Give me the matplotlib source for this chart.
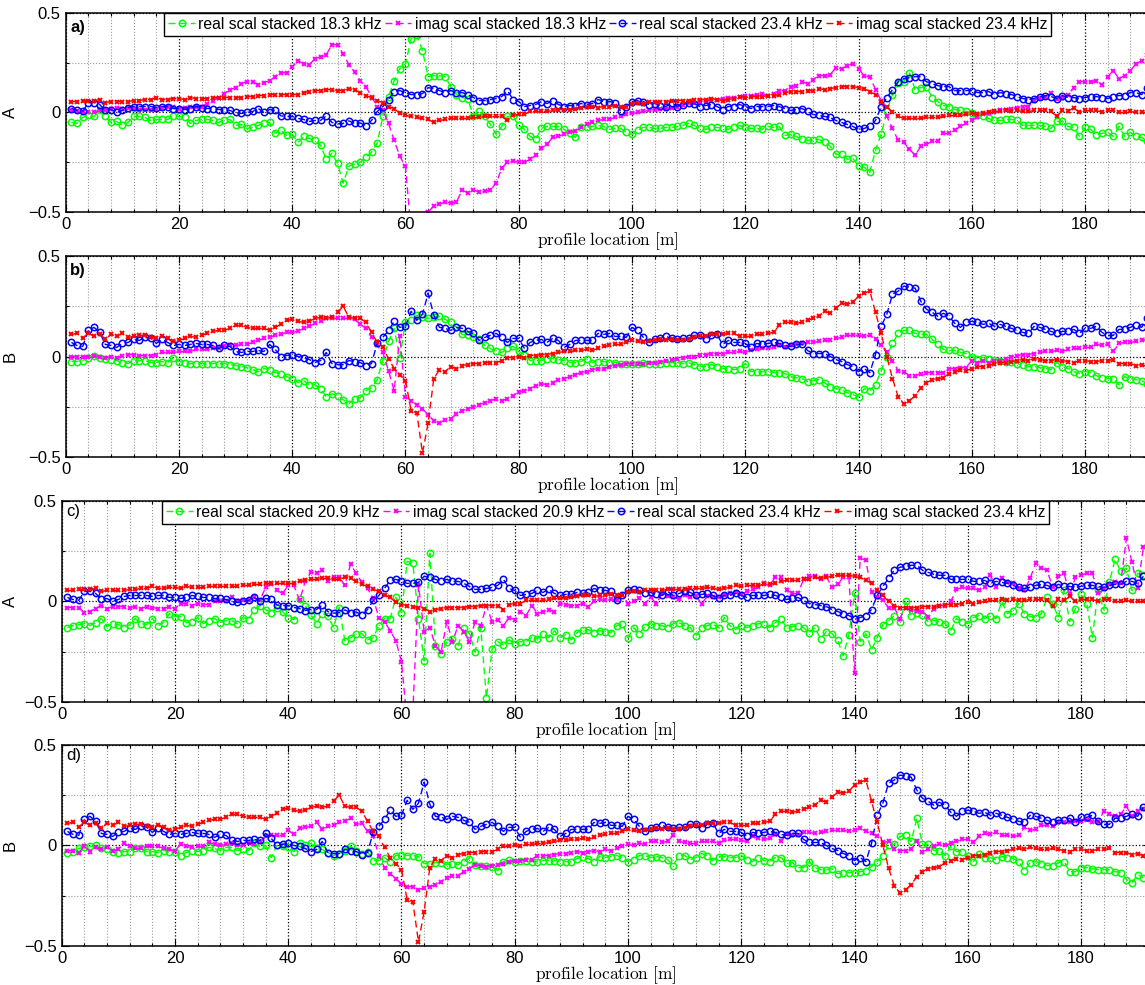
import numpy as np
import matplotlib
matplotlib.use('Agg')
import matplotlib.pyplot as plt
from matplotlib.ticker import MultipleLocator, FixedLocator

plt.rcParams['font.family'] = ['Liberation Sans', 'DejaVu Sans']
plt.rcParams['mathtext.fontset'] = 'cm'

# scaled responses, one value per metre (x = 1, 2, 3, ...)
# component A, 23.4 kHz (used in panels a and c)
a_real_234 = [
    0.02, 0.01, 0.005, 0.05, 0.05, 0.04, 0.01, 0.015, 0.0, 0.01,
    0.025, 0.03, 0.03, 0.03, 0.03, 0.025, 0.03, 0.03, 0.02, 0.02,
    0.015, 0.02, 0.03, 0.025, 0.02, 0.02, 0.015, 0.015, 0.01, 0.0,
    -0.005, 0.0, 0.005, 0.02, 0.0, 0.015, 0.01, -0.017, -0.02, -0.02,
    -0.03, -0.035, -0.045, -0.04, -0.04, -0.017, -0.05, -0.058, -0.055, -0.042,
    -0.055, -0.052, -0.068, -0.04, 0.005, 0.03, 0.065, 0.105, 0.11, 0.1,
    0.09, 0.09, 0.095, 0.125, 0.12, 0.11, 0.1, 0.11, 0.1, 0.1,
    0.09, 0.075, 0.06, 0.06, 0.065, 0.07, 0.08, 0.11, 0.065, 0.055,
    0.03, 0.035, 0.04, 0.055, 0.045, 0.06, 0.04, 0.03, 0.035, 0.035,
    0.045, 0.04, 0.045, 0.065, 0.055, 0.055, 0.05, 0.005, 0.03, 0.055,
    0.06, 0.055, 0.04, 0.045, 0.035, 0.03, 0.05, 0.03, 0.04, 0.05,
    0.045, 0.03, 0.035, 0.04, 0.03, 0.015, 0.03, 0.03, 0.04, 0.03,
    0.02, 0.03, 0.03, 0.03, 0.035, 0.03, 0.02, 0.01, 0.015, 0.02,
    0.005, -0.01, -0.015, -0.02, -0.025, -0.04, -0.05, -0.06, -0.07, -0.085,
    -0.08, -0.07, -0.04, 0.03, 0.075, 0.115, 0.155, 0.17, 0.175, 0.18,
    0.18, 0.155, 0.145, 0.135, 0.13, 0.13, 0.11, 0.11, 0.11, 0.11,
    0.1, 0.1, 0.105, 0.09, 0.1, 0.095, 0.09, 0.08, 0.07, 0.065,
    0.07, 0.08, 0.085, 0.08, 0.07, 0.085, 0.075, 0.075, 0.07, 0.075,
    0.08, 0.08, 0.075, 0.07, 0.08, 0.085, 0.085, 0.1, 0.1, 0.09,
    0.125]
a_imag_234 = [
    0.055, 0.055, 0.06, 0.06, 0.06, 0.065, 0.05, 0.055, 0.055, 0.055,
    0.055, 0.06, 0.06, 0.065, 0.065, 0.075, 0.065, 0.065, 0.07, 0.07,
    0.065, 0.075, 0.07, 0.07, 0.07, 0.075, 0.075, 0.075, 0.075, 0.075,
    0.075, 0.08, 0.08, 0.085, 0.085, 0.09, 0.09, 0.09, 0.09, 0.09,
    0.09, 0.1, 0.105, 0.11, 0.11, 0.115, 0.115, 0.11, 0.11, 0.12,
    0.115, 0.1, 0.085, 0.075, 0.06, 0.05, 0.03, 0.02, -0.005, -0.015,
    -0.02, -0.025, -0.03, -0.035, -0.05, -0.04, -0.035, -0.03, -0.03, -0.03,
    -0.03, -0.025, -0.025, -0.02, -0.02, -0.02, -0.02, -0.04, -0.015, -0.01,
    -0.01, 0.005, 0.005, 0.005, 0.005, 0.01, 0.015, 0.015, 0.015, 0.02,
    0.025, 0.03, 0.03, 0.025, 0.03, 0.03, 0.035, 0.03, 0.03, 0.045,
    0.05, 0.045, 0.055, 0.055, 0.055, 0.055, 0.06, 0.06, 0.06, 0.06,
    0.065, 0.065, 0.065, 0.07, 0.065, 0.06, 0.065, 0.07, 0.08, 0.075,
    0.08, 0.08, 0.08, 0.085, 0.085, 0.09, 0.1, 0.105, 0.105, 0.105,
    0.11, 0.11, 0.12, 0.115, 0.12, 0.125, 0.13, 0.13, 0.13, 0.125,
    0.12, 0.105, 0.09, 0.055, 0.03, 0.0, -0.02, -0.03, -0.03, -0.03,
    -0.03, -0.025, -0.025, -0.025, -0.02, -0.015, -0.015, -0.015, -0.01, -0.005,
    -0.01, -0.005, 0.0, 0.005, 0.005, 0.01, 0.005, 0.01, 0.005, 0.005,
    0.01, 0.01, 0.01, 0.005, -0.02, 0.01, 0.005, 0.025, 0.0, 0.01,
    0.01, 0.01, 0.0, 0.01, 0.01, 0.0, 0.0, 0.005, 0.0, 0.0,
    0.0]

# component A, 18.3 kHz
a_real_183 = [
    -0.05, -0.055, -0.025, -0.015, -0.02, 0.01, -0.02, -0.05, -0.045, -0.065,
    -0.05, -0.02, -0.02, -0.025, -0.04, -0.035, -0.035, -0.035, -0.017, -0.02,
    -0.025, -0.055, -0.04, -0.035, -0.035, -0.04, -0.05, -0.04, -0.035, -0.065,
    -0.06, -0.08, -0.075, -0.065, -0.055, -0.05, -0.105, -0.09, -0.115, -0.11,
    -0.15, -0.12, -0.13, -0.14, -0.165, -0.235, -0.205, -0.255, -0.355, -0.27,
    -0.26, -0.25, -0.225, -0.2, -0.155, -0.02, 0.08, 0.16, 0.22, 0.245,
    0.37, 0.39, 0.31, 0.18, 0.185, 0.185, 0.18, 0.13, 0.09, 0.075,
    0.07, -0.02, 0.005, -0.02, -0.06, -0.11, -0.07, -0.02, -0.02, -0.065,
    -0.085, -0.12, -0.135, -0.08, -0.07, -0.07, -0.07, -0.085, -0.105, -0.125,
    -0.075, -0.075, -0.07, -0.065, -0.07, -0.085, -0.08, -0.08, -0.1, -0.11,
    -0.09, -0.075, -0.075, -0.08, -0.08, -0.075, -0.075, -0.07, -0.065, -0.055,
    -0.065, -0.08, -0.085, -0.075, -0.075, -0.08, -0.085, -0.075, -0.065, -0.075,
    -0.08, -0.08, -0.085, -0.07, -0.075, -0.07, -0.115, -0.11, -0.12, -0.135,
    -0.14, -0.14, -0.135, -0.15, -0.17, -0.21, -0.21, -0.235, -0.23, -0.27,
    -0.275, -0.3, -0.19, -0.11, 0.005, 0.09, 0.15, 0.155, 0.2, 0.115,
    0.125, 0.13, 0.075, 0.055, 0.035, 0.03, 0.015, 0.01, 0.005, -0.005,
    -0.015, -0.02, -0.03, -0.04, -0.04, -0.035, -0.035, -0.04, -0.065, -0.065,
    -0.065, -0.065, -0.07, -0.08, -0.045, -0.045, -0.07, -0.075, -0.12, -0.075,
    -0.085, -0.115, -0.105, -0.1, -0.12, -0.07, -0.12, -0.1, -0.12, -0.125,
    -0.145]
a_imag_183 = [
    0.01, 0.005, 0.0, 0.0, 0.0, 0.01, 0.015, 0.02, 0.025, 0.02,
    0.025, 0.02, 0.015, 0.015, 0.015, 0.02, 0.025, 0.03, 0.03, 0.02,
    0.025, 0.03, 0.03, 0.03, 0.045, 0.06, 0.075, 0.095, 0.115, 0.125,
    0.145, 0.155, 0.155, 0.14, 0.15, 0.16, 0.18, 0.2, 0.2, 0.23,
    0.26, 0.245, 0.24, 0.27, 0.28, 0.29, 0.34, 0.34, 0.295, 0.24,
    0.205, 0.16, 0.13, 0.08, 0.03, 0.01, -0.055, -0.14, -0.22, -0.27,
    -0.6, -0.65, -0.6, -0.5, -0.47, -0.46, -0.45, -0.455, -0.45, -0.39,
    -0.405, -0.39, -0.4, -0.395, -0.39, -0.355, -0.28, -0.25, -0.245, -0.25,
    -0.25, -0.235, -0.215, -0.18, -0.16, -0.125, -0.12, -0.11, -0.1, -0.095,
    -0.075, -0.06, -0.05, -0.04, -0.035, -0.035, -0.025, -0.02, -0.01, -0.005,
    0.0, 0.005, 0.01, 0.015, 0.02, 0.02, 0.025, 0.03, 0.04, 0.05,
    0.05, 0.055, 0.06, 0.06, 0.065, 0.07, 0.075, 0.075, 0.08, 0.085,
    0.085, 0.09, 0.095, 0.085, 0.095, 0.11, 0.11, 0.13, 0.135, 0.155,
    0.145, 0.165, 0.185, 0.185, 0.19, 0.225, 0.22, 0.235, 0.245, 0.22,
    0.185, 0.18, 0.115, 0.06, -0.02, -0.08, -0.14, -0.15, -0.185, -0.215,
    -0.17, -0.16, -0.145, -0.145, -0.105, -0.105, -0.09, -0.07, -0.055, -0.04,
    -0.025, -0.01, -0.005, 0.0, 0.01, 0.015, 0.02, 0.025, 0.03, 0.03,
    0.06, 0.075, 0.08, 0.1, 0.07, 0.075, 0.09, 0.125, 0.155, 0.155,
    0.155, 0.16, 0.14, 0.18, 0.21, 0.17, 0.185, 0.21, 0.245, 0.26,
    0.29]

# component B, 23.4 kHz (used in panels b and d)
b_real_234 = [
    0.07, 0.055, 0.05, 0.13, 0.145, 0.12, 0.06, 0.055, 0.045, 0.065,
    0.07, 0.085, 0.08, 0.095, 0.09, 0.065, 0.085, 0.07, 0.055, 0.06,
    0.055, 0.06, 0.065, 0.06, 0.06, 0.055, 0.04, 0.055, 0.05, 0.025,
    0.02, 0.025, 0.025, 0.03, 0.025, 0.06, 0.035, 0.0, 0.005, 0.01,
    0.0, -0.005, -0.015, -0.03, -0.02, 0.02, -0.035, -0.04, -0.04, -0.02,
    -0.025, -0.03, -0.045, -0.035, 0.065, 0.095, 0.13, 0.175, 0.145, 0.15,
    0.225, 0.18, 0.21, 0.315, 0.205, 0.145, 0.14, 0.13, 0.145, 0.14,
    0.125, 0.115, 0.08, 0.095, 0.105, 0.115, 0.095, 0.07, 0.09, 0.09,
    0.04, 0.07, 0.08, 0.085, 0.07, 0.09, 0.08, 0.045, 0.06, 0.08,
    0.08, 0.08, 0.08, 0.115, 0.11, 0.115, 0.1, 0.1, 0.095, 0.145,
    0.13, 0.095, 0.07, 0.085, 0.09, 0.1, 0.09, 0.085, 0.09, 0.09,
    0.105, 0.105, 0.085, 0.105, 0.11, 0.06, 0.08, 0.07, 0.07, 0.065,
    0.045, 0.065, 0.06, 0.065, 0.07, 0.065, 0.055, 0.05, 0.06, 0.06,
    0.03, 0.015, 0.015, 0.015, 0.0, -0.015, -0.025, -0.04, -0.05, -0.075,
    -0.06, -0.08, 0.01, 0.15, 0.21, 0.31, 0.325, 0.35, 0.345, 0.34,
    0.275, 0.235, 0.22, 0.2, 0.215, 0.2, 0.165, 0.145, 0.17, 0.175,
    0.17, 0.16, 0.165, 0.15, 0.16, 0.15, 0.14, 0.13, 0.12, 0.115,
    0.15, 0.145, 0.135, 0.125, 0.115, 0.125, 0.125, 0.135, 0.115, 0.14,
    0.14, 0.15, 0.12, 0.105, 0.105, 0.135, 0.135, 0.145, 0.155, 0.145,
    0.19]
b_imag_234 = [
    0.11, 0.115, 0.09, 0.115, 0.1, 0.11, 0.085, 0.11, 0.1, 0.115,
    0.095, 0.1, 0.105, 0.105, 0.095, 0.09, 0.1, 0.09, 0.075, 0.08,
    0.09, 0.1, 0.095, 0.105, 0.115, 0.125, 0.13, 0.13, 0.14, 0.155,
    0.155, 0.145, 0.14, 0.14, 0.14, 0.13, 0.145, 0.16, 0.18, 0.185,
    0.175, 0.17, 0.175, 0.19, 0.195, 0.19, 0.195, 0.22, 0.25, 0.195,
    0.19, 0.19, 0.17, 0.12, 0.07, 0.045, -0.01, -0.06, -0.09, -0.12,
    -0.27, -0.28, -0.48, -0.33, -0.11, -0.065, -0.075, -0.05, -0.06, -0.045,
    -0.04, -0.035, -0.035, -0.03, -0.03, -0.03, -0.02, -0.005, -0.005, 0.0,
    -0.005, 0.005, 0.005, 0.01, 0.01, 0.015, 0.02, 0.025, 0.025, 0.03,
    0.03, 0.035, 0.03, 0.04, 0.05, 0.055, 0.06, 0.06, 0.07, 0.08,
    0.075, 0.07, 0.075, 0.08, 0.085, 0.08, 0.085, 0.08, 0.08, 0.085,
    0.095, 0.1, 0.1, 0.11, 0.11, 0.11, 0.115, 0.115, 0.1, 0.1,
    0.1, 0.11, 0.11, 0.115, 0.12, 0.155, 0.17, 0.17, 0.165, 0.17,
    0.18, 0.19, 0.2, 0.225, 0.215, 0.24, 0.265, 0.26, 0.27, 0.3,
    0.315, 0.325, 0.22, 0.115, 0.0, -0.11, -0.2, -0.235, -0.22, -0.195,
    -0.155, -0.13, -0.115, -0.11, -0.105, -0.085, -0.075, -0.065, -0.07, -0.06,
    -0.05, -0.05, -0.045, -0.035, -0.03, -0.03, -0.025, -0.02, -0.015, -0.02,
    -0.01, -0.015, -0.02, -0.02, -0.015, -0.02, -0.025, -0.03, -0.02, -0.02,
    -0.025, -0.025, -0.02, -0.02, -0.015, -0.035, -0.035, -0.035, -0.045, -0.04,
    -0.05]

# component B, 18.3 kHz
b_real_183 = [
    -0.025, -0.025, -0.02, -0.005, 0.005, -0.005, -0.01, -0.015, -0.02, -0.03,
    -0.035, -0.02, -0.02, -0.02, -0.03, -0.03, -0.025, -0.03, -0.005, -0.025,
    -0.03, -0.035, -0.035, -0.035, -0.035, -0.035, -0.035, -0.035, -0.04, -0.045,
    -0.05, -0.055, -0.065, -0.075, -0.06, -0.065, -0.08, -0.085, -0.1, -0.11,
    -0.13, -0.12, -0.14, -0.14, -0.16, -0.2, -0.185, -0.195, -0.215, -0.235,
    -0.21, -0.205, -0.17, -0.155, -0.115, -0.02, 0.075, 0.14, -0.005, 0.17,
    0.18, 0.205, 0.195, 0.19, 0.195, 0.2, 0.185, 0.17, 0.145, 0.11,
    0.105, 0.095, 0.085, 0.055, 0.04, 0.025, 0.02, 0.04, 0.05, 0.025,
    0.01, -0.02, -0.02, -0.02, -0.01, -0.01, -0.015, -0.02, -0.03, -0.03,
    -0.025, -0.01, -0.03, -0.025, -0.025, -0.03, -0.03, -0.035, -0.035, -0.035,
    -0.035, -0.03, -0.035, -0.035, -0.035, -0.03, -0.03, -0.03, -0.035, -0.03,
    -0.04, -0.05, -0.05, -0.04, -0.05, -0.06, -0.06, -0.065, -0.06, -0.035,
    -0.075, -0.075, -0.075, -0.075, -0.08, -0.08, -0.085, -0.1, -0.105, -0.11,
    -0.125, -0.12, -0.115, -0.13, -0.15, -0.16, -0.165, -0.18, -0.19, -0.2,
    -0.16, -0.17, -0.14, -0.07, 0.0, 0.065, 0.115, 0.13, 0.13, 0.115,
    0.11, 0.11, 0.085, 0.06, 0.035, 0.03, 0.03, 0.02, 0.015, 0.0,
    -0.01, -0.005, -0.01, -0.015, -0.02, -0.025, -0.025, -0.035, -0.04, -0.05,
    -0.05, -0.055, -0.06, -0.065, -0.03, -0.05, -0.06, -0.075, -0.085, -0.075,
    -0.08, -0.095, -0.105, -0.11, -0.11, -0.14, -0.1, -0.11, -0.115, -0.12,
    -0.135]
b_imag_183 = [
    0.0, 0.0, 0.0, 0.0, 0.005, 0.0, -0.005, 0.0, -0.005, 0.005,
    0.01, 0.01, 0.005, 0.005, 0.005, 0.01, 0.02, 0.02, 0.02, 0.025,
    0.025, 0.025, 0.035, 0.035, 0.035, 0.04, 0.04, 0.05, 0.055, 0.055,
    0.06, 0.06, 0.07, 0.08, 0.09, 0.095, 0.105, 0.11, 0.12, 0.12,
    0.125, 0.14, 0.15, 0.165, 0.175, 0.19, 0.19, 0.19, 0.19, 0.19,
    0.185, 0.16, 0.14, 0.095, 0.055, 0.02, -0.07, -0.17, 0.1, -0.2,
    -0.22, -0.24, -0.26, -0.29, -0.32, -0.33, -0.315, -0.31, -0.285, -0.27,
    -0.26, -0.25, -0.24, -0.23, -0.22, -0.21, -0.22, -0.21, -0.195, -0.175,
    -0.17, -0.16, -0.145, -0.135, -0.14, -0.13, -0.115, -0.11, -0.1, -0.09,
    -0.08, -0.075, -0.065, -0.06, -0.06, -0.05, -0.045, -0.04, -0.035, -0.035,
    -0.035, -0.035, -0.03, -0.03, -0.025, -0.02, -0.015, -0.01, -0.005, 0.0,
    0.0, 0.01, 0.01, 0.015, 0.015, 0.015, 0.02, 0.02, 0.025, 0.02,
    0.03, 0.035, 0.04, 0.04, 0.045, 0.055, 0.045, 0.055, 0.06, 0.065,
    0.07, 0.07, 0.075, 0.08, 0.08, 0.09, 0.095, 0.105, 0.105, 0.105,
    0.1, 0.105, 0.085, 0.055, 0.02, -0.02, -0.07, -0.075, -0.095, -0.095,
    -0.085, -0.08, -0.08, -0.08, -0.08, -0.06, -0.06, -0.055, -0.055, -0.02,
    -0.03, -0.02, -0.03, -0.02, -0.02, -0.01, 0.0, 0.005, 0.01, 0.01,
    0.015, 0.02, 0.025, 0.025, 0.03, 0.025, 0.035, 0.04, 0.04, 0.045,
    0.045, 0.06, 0.055, 0.06, 0.025, 0.065, 0.07, 0.07, 0.075, 0.08,
    0.085]

# component A, 20.9 kHz
c_real_209 = [
    -0.13, -0.12, -0.115, -0.11, -0.12, -0.105, -0.085, -0.125, -0.11, -0.115,
    -0.13, -0.115, -0.085, -0.11, -0.115, -0.085, -0.12, -0.105, -0.06, -0.075,
    -0.075, -0.105, -0.1, -0.08, -0.11, -0.095, -0.085, -0.105, -0.095, -0.095,
    -0.11, -0.08, -0.09, -0.04, -0.02, -0.04, -0.055, -0.03, -0.05, -0.08,
    -0.09, 0.01, -0.02, -0.065, -0.11, -0.06, -0.07, -0.13, -0.03, -0.195,
    -0.18, -0.16, -0.16, -0.19, -0.18, -0.12, -0.085, -0.085, 0.02, -0.055,
    0.2, 0.19, -0.085, -0.295, 0.24, -0.22, -0.26, -0.2, -0.185, -0.22,
    -0.13, -0.16, -0.25, -0.13, -0.48, -0.235, -0.2, -0.215, -0.19, -0.21,
    -0.2, -0.2, -0.18, -0.185, -0.16, -0.18, -0.145, -0.18, -0.165, -0.19,
    -0.155, -0.14, -0.14, -0.155, -0.145, -0.15, -0.155, -0.12, -0.11, -0.18,
    -0.13, -0.16, -0.125, -0.11, -0.12, -0.12, -0.13, -0.11, -0.105, -0.12,
    -0.13, -0.17, -0.13, -0.12, -0.115, -0.13, -0.08, -0.12, -0.14, -0.12,
    -0.13, -0.12, -0.11, -0.11, -0.13, -0.105, -0.085, -0.13, -0.125, -0.12,
    -0.13, -0.155, -0.13, -0.185, -0.15, -0.16, -0.19, -0.27, -0.165, 0.04,
    -0.2, -0.16, -0.24, -0.18, -0.115, -0.095, -0.07, -0.1, 0.0, -0.07,
    -0.055, -0.065, -0.1, -0.095, -0.1, -0.11, -0.145, -0.085, -0.1, -0.11,
    -0.08, -0.07, -0.085, -0.07, -0.085, 0.0, -0.06, -0.045, -0.01, -0.06,
    -0.075, -0.08, -0.06, 0.02, -0.01, -0.08, 0.055, -0.1, -0.035, 0.035,
    -0.01, -0.18, 0.055, -0.04, 0.095, 0.21, 0.15, 0.165, 0.055, 0.14,
    0.13]
c_imag_209 = [
    -0.03, -0.03, -0.03, -0.055, -0.05, -0.035, -0.02, -0.035, -0.025, -0.025,
    -0.025, -0.03, -0.025, -0.035, -0.025, -0.03, -0.035, -0.035, -0.025, -0.035,
    -0.01, -0.01, -0.02, -0.01, -0.015, -0.015, 0.0, 0.0, 0.0, 0.02,
    0.0, 0.005, 0.005, 0.02, 0.005, 0.07, 0.085, 0.055, 0.04, 0.08,
    0.08, 0.005, 0.1, 0.145, 0.14, 0.155, 0.1, 0.12, 0.12, 0.08,
    0.185, 0.14, 0.095, 0.065, 0.015, -0.08, -0.1, -0.145, -0.195, -0.3,
    -0.6, -0.55, 0.08, -0.15, -0.13, -0.22, -0.25, -0.1, -0.2, -0.12,
    -0.15, -0.2, -0.1, -0.12, -0.02, -0.1, -0.09, -0.12, -0.08, -0.09,
    -0.05, -0.07, -0.02, -0.06, -0.05, -0.04, -0.05, -0.01, -0.015, -0.02,
    -0.02, -0.01, -0.025, 0.0, 0.01, 0.005, 0.01, 0.005, 0.03, -0.01,
    0.0, 0.015, -0.01, 0.02, -0.01, 0.04, 0.025, 0.02, 0.01, 0.03,
    0.02, 0.025, -0.01, 0.025, 0.02, 0.02, 0.03, 0.04, 0.045, 0.035,
    0.05, 0.06, 0.07, 0.09, 0.08, 0.12, 0.12, 0.055, 0.04, 0.04,
    0.11, 0.125, 0.125, 0.11, 0.125, 0.07, 0.085, 0.12, 0.12, -0.355,
    0.215, 0.205, 0.045, 0.02, 0.005, -0.03, -0.03, -0.085, -0.03, -0.04,
    -0.045, -0.05, -0.075, -0.035, -0.02, -0.02, 0.0, 0.06, 0.07, 0.065,
    0.065, 0.055, 0.07, 0.13, 0.07, 0.115, 0.095, 0.09, 0.065, 0.055,
    0.115, 0.19, 0.165, 0.155, 0.07, 0.125, 0.14, 0.035, 0.12, 0.13,
    0.14, 0.14, 0.04, 0.06, 0.085, 0.095, 0.09, 0.315, 0.195, 0.065,
    0.27]

# component B, 20.9 kHz
d_real_209 = [
    -0.035, -0.03, -0.015, -0.01, -0.005, 0.0, -0.015, -0.02, -0.03, -0.035,
    -0.03, -0.03, -0.015, -0.015, -0.03, -0.03, -0.035, -0.025, -0.03, -0.03,
    -0.05, -0.035, -0.025, -0.03, -0.025, -0.01, -0.015, -0.025, -0.01, -0.01,
    -0.025, -0.02, -0.025, 0.01, -0.005, 0.0, -0.06, 0.0, -0.005, -0.01,
    -0.03, 0.01, 0.0, 0.01, -0.015, -0.02, -0.035, -0.05, -0.04, -0.025,
    -0.005, -0.025, -0.04, -0.03, -0.075, -0.075, -0.06, -0.08, -0.05, -0.045,
    -0.05, -0.05, -0.055, -0.09, -0.09, -0.085, -0.085, -0.095, -0.09, -0.095,
    -0.08, -0.065, -0.095, -0.1, -0.1, -0.105, -0.125, -0.08, -0.07, -0.08,
    -0.075, -0.075, -0.08, -0.08, -0.075, -0.075, -0.075, -0.08, -0.08, -0.08,
    -0.065, -0.055, -0.065, -0.08, -0.055, -0.06, -0.055, -0.05, -0.06, -0.08,
    -0.07, -0.05, -0.05, -0.06, -0.055, -0.06, -0.07, -0.1, -0.05, -0.05,
    -0.07, -0.06, -0.04, -0.05, -0.075, -0.055, -0.055, -0.06, -0.06, -0.05,
    -0.07, -0.08, -0.06, -0.075, -0.08, -0.06, -0.06, -0.085, -0.085, -0.11,
    -0.11, -0.08, -0.11, -0.12, -0.12, -0.115, -0.14, -0.135, -0.135, -0.135,
    -0.13, -0.125, -0.105, -0.08, -0.05, 0.0, 0.005, 0.045, 0.05, 0.02,
    0.135, 0.005, 0.005, -0.025, -0.025, -0.05, -0.005, -0.03, -0.03, -0.05,
    -0.08, -0.04, -0.06, -0.06, -0.07, -0.055, -0.06, -0.065, -0.08, -0.125,
    -0.085, -0.08, -0.09, -0.1, -0.1, -0.085, -0.08, -0.13, -0.13, -0.11,
    -0.11, -0.115, -0.12, -0.12, -0.12, -0.13, -0.135, -0.17, -0.185, -0.145,
    -0.16]
d_imag_209 = [
    -0.025, -0.025, -0.035, -0.005, -0.03, -0.01, -0.02, -0.01, -0.025, -0.02,
    0.01, -0.005, -0.015, -0.015, -0.005, -0.005, -0.005, -0.015, -0.02, -0.025,
    0.005, -0.005, -0.01, -0.005, -0.005, 0.015, 0.005, 0.0, 0.005, 0.01,
    0.0, 0.0, 0.01, 0.005, 0.015, 0.045, 0.05, 0.05, 0.05, 0.075,
    0.055, 0.085, 0.09, 0.095, 0.115, 0.08, 0.095, 0.1, 0.115, 0.12,
    0.135, 0.105, 0.11, 0.07, 0.045, -0.05, -0.11, -0.14, -0.165, -0.19,
    -0.205, -0.205, -0.22, -0.21, -0.205, -0.195, -0.18, -0.16, -0.15, -0.15,
    -0.13, -0.115, -0.095, -0.1, -0.105, -0.1, -0.095, -0.09, -0.08, -0.075,
    -0.075, -0.07, -0.07, -0.05, -0.05, -0.05, -0.045, -0.04, -0.04, -0.035,
    -0.03, -0.035, -0.03, -0.025, -0.03, -0.02, -0.025, -0.015, -0.005, 0.005,
    0.0, 0.01, 0.005, 0.02, 0.02, 0.015, 0.02, 0.05, 0.02, 0.015,
    0.01, 0.01, 0.02, 0.02, 0.02, 0.01, 0.025, 0.03, 0.03, 0.025,
    0.02, 0.045, 0.035, 0.03, 0.035, 0.055, 0.02, 0.055, 0.05, 0.05,
    0.065, 0.065, 0.06, 0.065, 0.07, 0.075, 0.075, 0.075, 0.07, 0.075,
    0.085, 0.07, 0.06, 0.045, 0.015, 0.02, -0.02, -0.025, -0.025, -0.02,
    0.02, -0.03, -0.02, -0.005, 0.005, 0.0, 0.01, 0.02, 0.03, 0.03,
    0.015, 0.045, 0.06, 0.055, 0.065, 0.05, 0.05, 0.045, 0.05, 0.09,
    0.075, 0.08, 0.1, 0.1, 0.095, 0.115, 0.115, 0.115, 0.12, 0.12,
    0.125, 0.115, 0.115, 0.17, 0.155, 0.145, 0.155, 0.195, 0.145, 0.17,
    0.18]

GREEN, MAGENTA, BLUE, RED = (0, 1, 0), (1, 0, 1), (0, 0, 1), (1, 0, 0)


def panel(rect, xmax, curves, ylab, tag, bold, show_legend):
    ax = fig.add_axes(rect)
    for y, col, mk, lab in curves:
        x = np.arange(1, len(y) + 1)
        if mk == 'o':
            ax.plot(x, y, color=col, ls='--', dashes=(5, 3), lw=1.0,
                    marker='o', ms=4.6, mfc='none', mec=col, mew=1.1, label=lab)
        else:
            ax.plot(x, y, color=col, ls='--', dashes=(5, 3), lw=1.0,
                    marker='x', ms=3.5, mec=col, mew=1.4, label=lab)
    ax.set_xlim(0, xmax)
    ax.set_ylim(-0.5, 0.5)
    ax.xaxis.set_major_locator(MultipleLocator(20))
    ax.xaxis.set_minor_locator(MultipleLocator(4))
    ax.yaxis.set_major_locator(FixedLocator([-0.5, 0, 0.5]))
    ax.yaxis.set_minor_locator(FixedLocator([-0.25, 0.25]))
    ax.set_yticklabels(['\u22120.5', '0', '0.5'])
    ax.grid(True, which='major', color='black', ls=':', lw=0.9)
    ax.grid(True, which='minor', color='0.6', ls=':', lw=0.8)
    ax.tick_params(which='both', direction='in', top=True, right=True,
                   labelsize=12, width=0.8)
    ax.tick_params(which='major', length=5)
    ax.tick_params(which='minor', length=2.5)
    for s in ax.spines.values():
        s.set_linewidth(1.1)
    ax.set_xlabel(r'$\mathrm{profile\ location\ [m]}$', fontsize=12.5, labelpad=-1)
    ax.set_ylabel(ylab, fontsize=12)
    # y label sits about 18 px from the left edge of the figure
    ax.yaxis.set_label_coords((18.0 / 1145 - rect[0]) / rect[2], 0.5)
    ax.text(0.004, 0.965 if bold else 0.985, tag, transform=ax.transAxes,
            ha='left', va='top', fontsize=12,
            fontweight='bold' if bold else 'normal')
    if show_legend:
        leg = ax.legend(loc='upper center', bbox_to_anchor=(0.5, 1.0), ncol=4,
                        fontsize=11.3, handlelength=1.7, handletextpad=0.2,
                        columnspacing=0.2, borderpad=0.25, borderaxespad=0.0,
                        fancybox=False, framealpha=1.0, edgecolor='black')
        leg.get_frame().set_linewidth(1.0)
    return ax


fig = plt.figure(figsize=(11.45, 9.85), dpi=100)

panel([0.0574, 0.7848, 0.9466, 0.2020], 191.4,
      [(a_real_183, GREEN, 'o', 'real scal stacked 18.3 kHz'),
       (a_imag_183, MAGENTA, 'x', 'imag scal stacked 18.3 kHz'),
       (a_real_234, BLUE, 'o', 'real scal stacked 23.4 kHz'),
       (a_imag_234, RED, 'x', 'imag scal stacked 23.4 kHz')],
      'A', 'a)', True, True)

panel([0.0574, 0.5360, 0.9466, 0.2041], 191.4,
      [(b_real_183, GREEN, 'o', 'real scal stacked 18.3 kHz'),
       (b_imag_183, MAGENTA, 'x', 'imag scal stacked 18.3 kHz'),
       (b_real_234, BLUE, 'o', 'real scal stacked 23.4 kHz'),
       (b_imag_234, RED, 'x', 'imag scal stacked 23.4 kHz')],
      'B', 'b)', True, False)

panel([0.0539, 0.2873, 0.9501, 0.2041], 192.1,
      [(c_real_209, GREEN, 'o', 'real scal stacked 20.9 kHz'),
       (c_imag_209, MAGENTA, 'x', 'imag scal stacked 20.9 kHz'),
       (a_real_234, BLUE, 'o', 'real scal stacked 23.4 kHz'),
       (a_imag_234, RED, 'x', 'imag scal stacked 23.4 kHz')],
      'A', 'c)', False, True)

panel([0.0539, 0.0396, 0.9501, 0.2041], 192.1,
      [(d_real_209, GREEN, 'o', 'real scal stacked 20.9 kHz'),
       (d_imag_209, MAGENTA, 'x', 'imag scal stacked 20.9 kHz'),
       (b_real_234, BLUE, 'o', 'real scal stacked 23.4 kHz'),
       (b_imag_234, RED, 'x', 'imag scal stacked 23.4 kHz')],
      'B', 'd)', False, False)

fig.savefig('out.png', dpi=100)
